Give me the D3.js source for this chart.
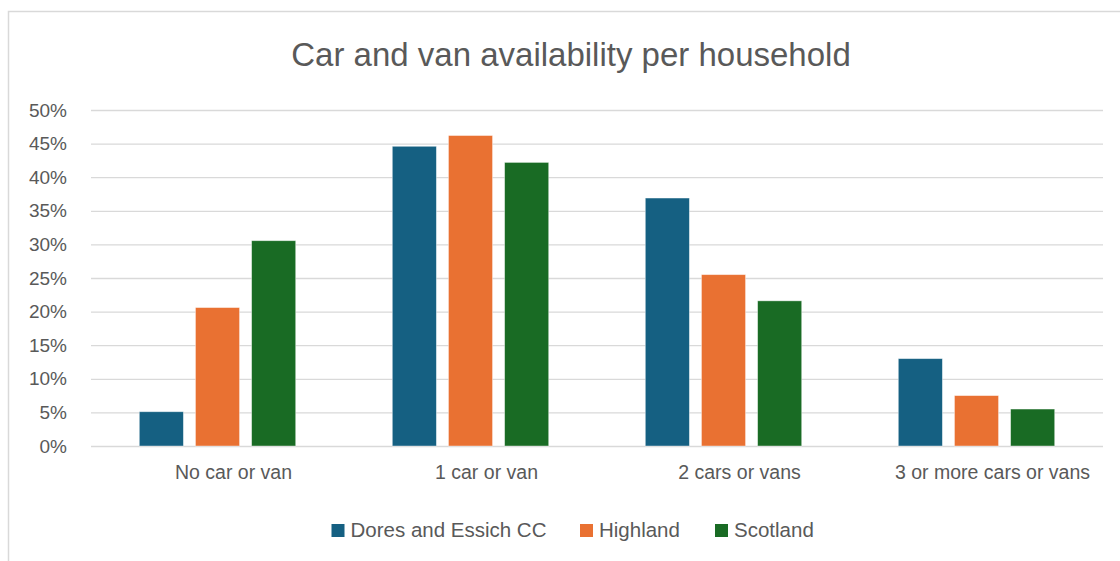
<!DOCTYPE html>
<html>
<head>
<meta charset="utf-8">
<script src="https://cdn.jsdelivr.net/npm/d3@7"></script>
<style>
  html, body { margin: 0; padding: 0; background: #fff; }
  svg { display: block; }
  text { font-family: "Liberation Sans", Arial, sans-serif; fill: #595959; }
</style>
</head>
<body>
<svg id="chart" width="1120" height="561"></svg>
<script>
const categories = ["No car or van", "1 car or van", "2 cars or vans", "3 or more cars or vans"];
const seriesNames = ["Dores and Essich CC", "Highland", "Scotland"];
const doresValues = [5.1, 44.6, 36.9, 13.0];
const highlandValues = [20.6, 46.2, 25.5, 7.5];
const scotlandValues = [30.55, 42.2, 21.6, 5.5];
const seriesColors = ["#156082", "#E97132", "#196B24"];
const yTicks = [0, 5, 10, 15, 20, 25, 30, 35, 40, 45, 50];
const title = "Car and van availability per household";

const seriesValues = [doresValues, highlandValues, scotlandValues];
const data = categories.map((c, i) => ({
  cat: c,
  vals: seriesNames.map((s, j) => ({ series: s, idx: j, value: seriesValues[j][i] }))
}));

const svg = d3.select("#chart");

// chart area border
svg.append("rect")
  .attr("x", 8.5).attr("y", 11.5)
  .attr("width", 1140).attr("height", 600)
  .attr("fill", "#fff").attr("stroke", "#d9d9d9").attr("stroke-width", 1.5);

const x = d3.scaleBand().domain(categories).range([91, 1103]).paddingInner(0).paddingOuter(0);
const y = d3.scaleLinear().domain([0, 50]).range([446, 110]);
const groupWidth = 156.4;
const xi = d3.scaleBand().domain(d3.range(seriesNames.length)).range([0, groupWidth]).paddingInner(0.215);

// gridlines
const grid = svg.append("g").attr("class", "grid")
  .attr("transform", "translate(91,0)")
  .call(d3.axisLeft(y).tickValues(yTicks).tickSize(-(1103 - 91)).tickFormat(""));
grid.select(".domain").remove();
grid.selectAll("line").attr("stroke", "#d9d9d9").attr("stroke-width", 1.3);

// y labels
const yAxis = svg.append("g")
  .attr("transform", "translate(67,0)")
  .call(d3.axisLeft(y).tickValues(yTicks).tickSize(0).tickPadding(0).tickFormat(d => d + "%"));
yAxis.select(".domain").remove();
yAxis.selectAll("text").attr("font-size", 19).attr("fill", "#595959")
  .style("font-family", '"Liberation Sans", Arial, sans-serif');

// bars
const groups = svg.append("g").selectAll("g.group").data(data).join("g")
  .attr("class", "group")
  .attr("transform", d => `translate(${x(d.cat) + (x.bandwidth() - groupWidth) / 2},0)`);
groups.selectAll("rect").data(d => d.vals).join("rect")
  .attr("x", d => xi(d.idx))
  .attr("width", xi.bandwidth())
  .attr("y", d => y(d.value))
  .attr("height", d => y(0) - y(d.value))
  .attr("fill", d => seriesColors[d.idx])
  .attr("stroke", "#ffffff").attr("stroke-opacity", 0.5).attr("stroke-width", 0.8);

// x labels
const xAxis = svg.append("g")
  .attr("transform", "translate(16,465)")
  .call(d3.axisBottom(x).tickSize(0).tickPadding(0));
xAxis.select(".domain").remove();
xAxis.selectAll("text").attr("font-size", 19.5).attr("fill", "#595959").attr("dy", "0.71em")
  .style("font-family", '"Liberation Sans", Arial, sans-serif');

// title
svg.append("text")
  .attr("x", 571).attr("y", 66)
  .attr("text-anchor", "middle")
  .attr("font-size", 33)
  .text(title);

// legend
const legendX = [331.5, 580, 715];
const legend = svg.append("g").selectAll("g").data(seriesNames).join("g")
  .attr("transform", (d, i) => `translate(${legendX[i]},524)`);
legend.append("rect").attr("width", 13).attr("height", 13).attr("fill", (d, i) => seriesColors[i]);
legend.append("text").attr("x", 19).attr("y", 13).attr("font-size", 20.5).text(d => d);
</script>
</body>
</html>
